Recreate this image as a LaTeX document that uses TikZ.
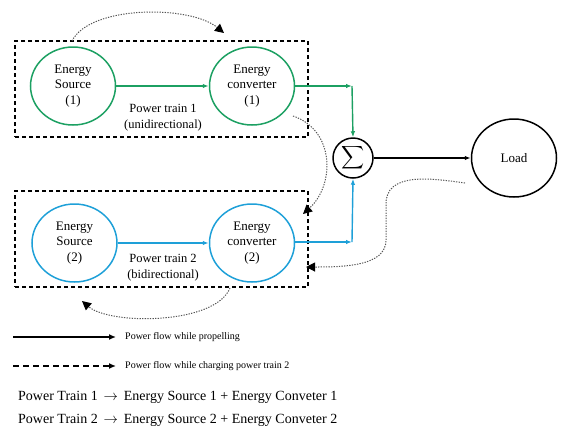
\documentclass[tikz,border=0pt]{standalone}
\usepackage{fontspec}
\usepackage{graphicx}
\setmainfont{Liberation Serif}
\usetikzlibrary{arrows.meta,shapes.geometric,positioning}
\definecolor{ptgreen}{RGB}{28,160,98}
\definecolor{ptblue}{RGB}{30,160,216}
\definecolor{dotgray}{RGB}{85,85,85}
\begin{document}
\begin{tikzpicture}[x=1pt,y=-1pt,
  oval/.style={ellipse,draw,line width=1.5pt,minimum width=85pt,minimum height=78pt,inner sep=0pt,align=center,font=\fontsize{13}{15.5}\selectfont},
  trainbox/.style={draw,dashed,line width=1.2pt,dash pattern=on 4pt off 3pt},
  flowg/.style={draw=ptgreen,line width=1.4pt,-{Latex[length=6pt,width=4.5pt]}},
  flowb/.style={draw=ptblue,line width=1.4pt,-{Latex[length=6pt,width=4.5pt]}},
  dotcurve/.style={draw=dotgray,dash pattern=on 1.3pt off 1.3pt,line width=1pt,-{Triangle[length=9pt,width=9pt,fill=black,color=black]}},
  lbl/.style={align=center,font=\fontsize{12.5}{16}\selectfont},
  legtxt/.style={anchor=west,font=\fontsize{10}{11}\selectfont,inner sep=0pt},
  bigtxt/.style={anchor=west,font=\fontsize{14}{16}\selectfont,inner sep=0pt}]
\useasboundingbox (0,0) rectangle (567,440);
% boxes
\node[trainbox,minimum width=293pt,minimum height=96pt,inner sep=0pt] (box1) at (161.5,89) {};
\node[trainbox,minimum width=293pt,minimum height=96pt,inner sep=0pt] (box2) at (161.5,239) {};
% nodes
\node[oval,draw=ptgreen] (s1) at (73,86) {Energy\\Source\\(1)};
\node[oval,draw=ptgreen] (c1) at (252,86) {Energy\\converter\\(1)};
\node[oval,draw=ptblue] (s2) at (74.5,243) {Energy\\Source\\(2)};
\node[oval,draw=ptblue] (c2) at (252,243) {Energy\\converter\\(2)};
\node[circle,draw,line width=1.5pt,minimum size=40pt,inner sep=0pt] (sum) at (353,158) {\scalebox{1.6}{$\displaystyle\sum$}};
\node[oval,draw=black] (load) at (514,158) {Load};
\node[lbl] (pt1) at (163,118) {Power train 1\\(unidirectional)};
\node[lbl] (pt2) at (163,268) {Power train 2\\(bidirectional)};
% connectors
\coordinate (k1) at (352,86);
\coordinate (k2) at (352,242);
\draw[flowg] (s1) -- (c1);
\draw[flowg] (c1.east) -- (k1);
\draw[flowg] (k1) -- (sum.north);
\draw[flowb] (s2) -- (c2);
\draw[flowb] (c2.east |- k2) -- (k2);
\draw[flowb] (k2) -- (sum.south);
\draw[line width=1.5pt,-{Latex[length=6pt,width=4.5pt]}] (sum) -- (load);
% dotted curves
\coordinate (a1s) at (72,41);
\coordinate (a1e) at (224,33);
\draw[dotcurve] (a1s) .. controls (90,5) and (190,5) .. (a1e);
\coordinate (a2s) at (293,116);
\coordinate (a2e) at (303,214);
\draw[dotcurve] (a2s) .. controls (335,130) and (335,185) .. (a2e);
\coordinate (a3s) at (465,183);
\coordinate (a3e) at (306,267);
\draw[dotcurve] (a3s) .. controls (430,178) and (385,172) .. (386,205) -- (386,240) .. controls (386,266) and (345,267) .. (a3e);
\coordinate (a4s) at (230,288);
\coordinate (a4e) at (82,301);
\draw[dotcurve] (a4s) .. controls (215,325) and (110,325) .. (a4e);
% legend
\coordinate (l1a) at (13,337); \coordinate (l1b) at (116,337);
\coordinate (l2a) at (13,366); \coordinate (l2b) at (116,366);
\draw[line width=1.5pt,-{Latex[length=7pt,width=6pt]}] (l1a) -- (l1b);
\draw[line width=1.5pt,dash pattern=on 5.5pt off 4.5pt,-{Latex[length=7pt,width=6pt]}] (l2a) -- (l2b);
\node[legtxt] (t1) at (125,337) {Power flow while propelling};
\node[legtxt] (t2) at (125,366) {Power flow while charging power train 2};
\node[bigtxt] (b1) at (18,397) {Power Train 1 \,$\rightarrow$\, Energy Source 1 + Energy Conveter 1};
\node[bigtxt] (b2) at (18,420) {Power Train 2 \,$\rightarrow$\, Energy Source 2 + Energy Conveter 2};
\end{tikzpicture}
\end{document}
